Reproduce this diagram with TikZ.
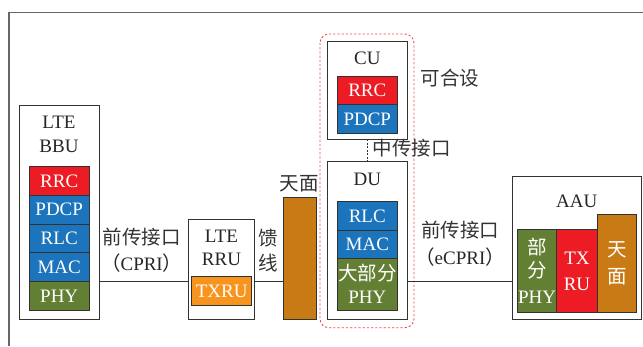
\documentclass[tikz,border=0pt]{standalone}
\usepackage{fontspec}
\setmainfont{Liberation Serif}
\newfontfamily\cjk{Noto Sans CJK SC}
\newcommand\latf{\fontsize{19}{22}\selectfont}
\newcommand\zhf{\cjk\fontsize{19.5}{22}\selectfont}
\definecolor{cred}{RGB}{237,28,36}
\definecolor{cblue}{RGB}{28,117,188}
\definecolor{cgreen}{RGB}{98,127,52}
\definecolor{corange}{RGB}{247,148,29}
\definecolor{cbrown}{RGB}{200,122,20}
\definecolor{cline}{RGB}{50,50,50}
\tikzset{
  box/.style={draw=cline, line width=0.9pt, fill=white, inner sep=0pt, outer sep=0pt},
  layer/.style={draw=cline, line width=0.9pt, inner sep=0pt, outer sep=0pt, text=white, font=\latf, minimum width=60pt, minimum height=28.7pt},
  lbl/.style={font=\latf, text=black!85, inner sep=0pt},
  zh/.style={font=\zhf, text=black!80, inner sep=0pt},
  wzh/.style={font=\zhf, text=white, inner sep=0pt},
  wlat/.style={font=\latf, text=white, inner sep=0pt},
  conn/.style={draw=cline, line width=0.9pt},
}
\begin{document}
\begin{tikzpicture}[x=1pt,y=-1pt]
\useasboundingbox (0,0) rectangle (643,346);
% outer frame
\draw[draw=black!60, line width=1.4pt] (643,12.3) -- (9,12.3) -- (9,346);

% LTE BBU
\node[box, minimum width=80pt, minimum height=214pt] (bbu) at (59,212) {};
\node[lbl] (bbut1) at (59,122) {LTE};
\node[lbl] (bbut2) at (59,146) {BBU};
\node[layer, fill=cred] (b1) at (59.2,181) {RRC};
\node[layer, fill=cblue] (b2) at (59.2,209.7) {PDCP};
\node[layer, fill=cblue] (b3) at (59.2,238.4) {RLC};
\node[layer, fill=cblue] (b4) at (59.2,267.1) {MAC};
\node[layer, fill=cgreen] (b5) at (59.2,295.8) {PHY};

% LTE RRU
\node[box, minimum width=66.4pt, minimum height=100.3pt] (rru) at (221.5,269.2) {};
\node[lbl] (rrut1) at (221.5,236) {LTE};
\node[lbl] (rrut2) at (221.5,259) {RRU};
\node[layer, fill=corange, minimum width=60pt, minimum height=29pt] (txru) at (221.7,291.2) {TXRU};

% feeder and antenna
\node[zh] (kui) at (268.3,238) {馈};
\node[zh] (xian) at (268.3,263) {线};
\node[draw=cline, line width=0.9pt, fill=cbrown, minimum width=32.7pt, minimum height=121.6pt, inner sep=0pt, outer sep=0pt] (ant) at (299.7,258.5) {};
\node[zh] (tianmian) at (299,183.5) {天面};

% CU/DU dashed group
\draw[draw=cred!80, line width=0.9pt, dash pattern=on 2.2pt off 2pt, rounded corners=9pt] (320,34) rectangle (414,327.7);
\node[box, minimum width=80pt, minimum height=97.6pt] (cu) at (367.3,90.5) {};
\node[lbl] (cut) at (367.3,58) {CU};
\node[layer, fill=cred] (c1) at (367.3,90.3) {RRC};
\node[layer, fill=cblue] (c2) at (367.3,119) {PDCP};
\node[zh] (hekeshe) at (450,78.3) {可合设};

\node[box, minimum width=80pt, minimum height=157.6pt] (du) at (367.3,240.5) {};
\node[lbl] (dut) at (367.3,179) {DU};
\node[layer, fill=cblue] (d1) at (367.3,216) {RLC};
\node[layer, fill=cblue, minimum height=28.4pt] (d2) at (367.3,244.5) {MAC};
\node[layer, fill=cgreen, minimum height=51.3pt] (d3) at (367.3,284.35) {};
\node[wzh] (d3a) at (367.3,273.3) {大部分};
\node[wlat] (d3b) at (367.3,297) {PHY};
\draw[conn, line width=0.7pt, dash pattern=on 2pt off 1.5pt] (cu.south) -- (du.north);
\node[zh, anchor=west] (zhong) at (372.5,148.3) {中传接口};

% AAU
\node[box, minimum width=129pt, minimum height=142.6pt] (aau) at (577.2,248) {};
\node[lbl] (aaut) at (576.7,201.5) {AAU};
\node[layer, fill=cgreen, minimum width=39.4pt, minimum height=83.3pt] (a1) at (537,270.7) {};
\node[wzh] (a1a) at (537,247.5) {部};
\node[wzh] (a1b) at (537,270) {分};
\node[wlat] (a1c) at (537,297) {PHY};
\node[layer, fill=cred, minimum width=40.6pt, minimum height=83.3pt] (a2) at (577,270.7) {};
\node[wlat] (a2a) at (577,258) {TX};
\node[wlat] (a2b) at (577,284.5) {RU};
\node[layer, fill=cbrown, minimum width=39.4pt, minimum height=98.3pt] (a3) at (617,263.2) {};
\node[wzh] (a3a) at (617,250) {天};
\node[wzh] (a3b) at (617,276.7) {面};

% interface labels
\node[zh] (fh1) at (141.7,237) {前传接口};
\node[lbl] (fh1b) at (141.7,263) {{\zhf （}CPRI{\zhf ）}};
\node[zh] (fh2) at (460,230) {前传接口};
\node[lbl] (fh2b) at (460,257) {{\zhf （}eCPRI{\zhf ）}};

% connectors
\coordinate (ly) at (0,281.3);
\draw[conn] (bbu.east |- ly) -- (rru.west |- ly);
\draw[conn] (rru.east |- ly) -- (ant.west |- ly);
\draw[conn] (du.east |- ly) -- (aau.west |- ly);
\end{tikzpicture}
\end{document}
